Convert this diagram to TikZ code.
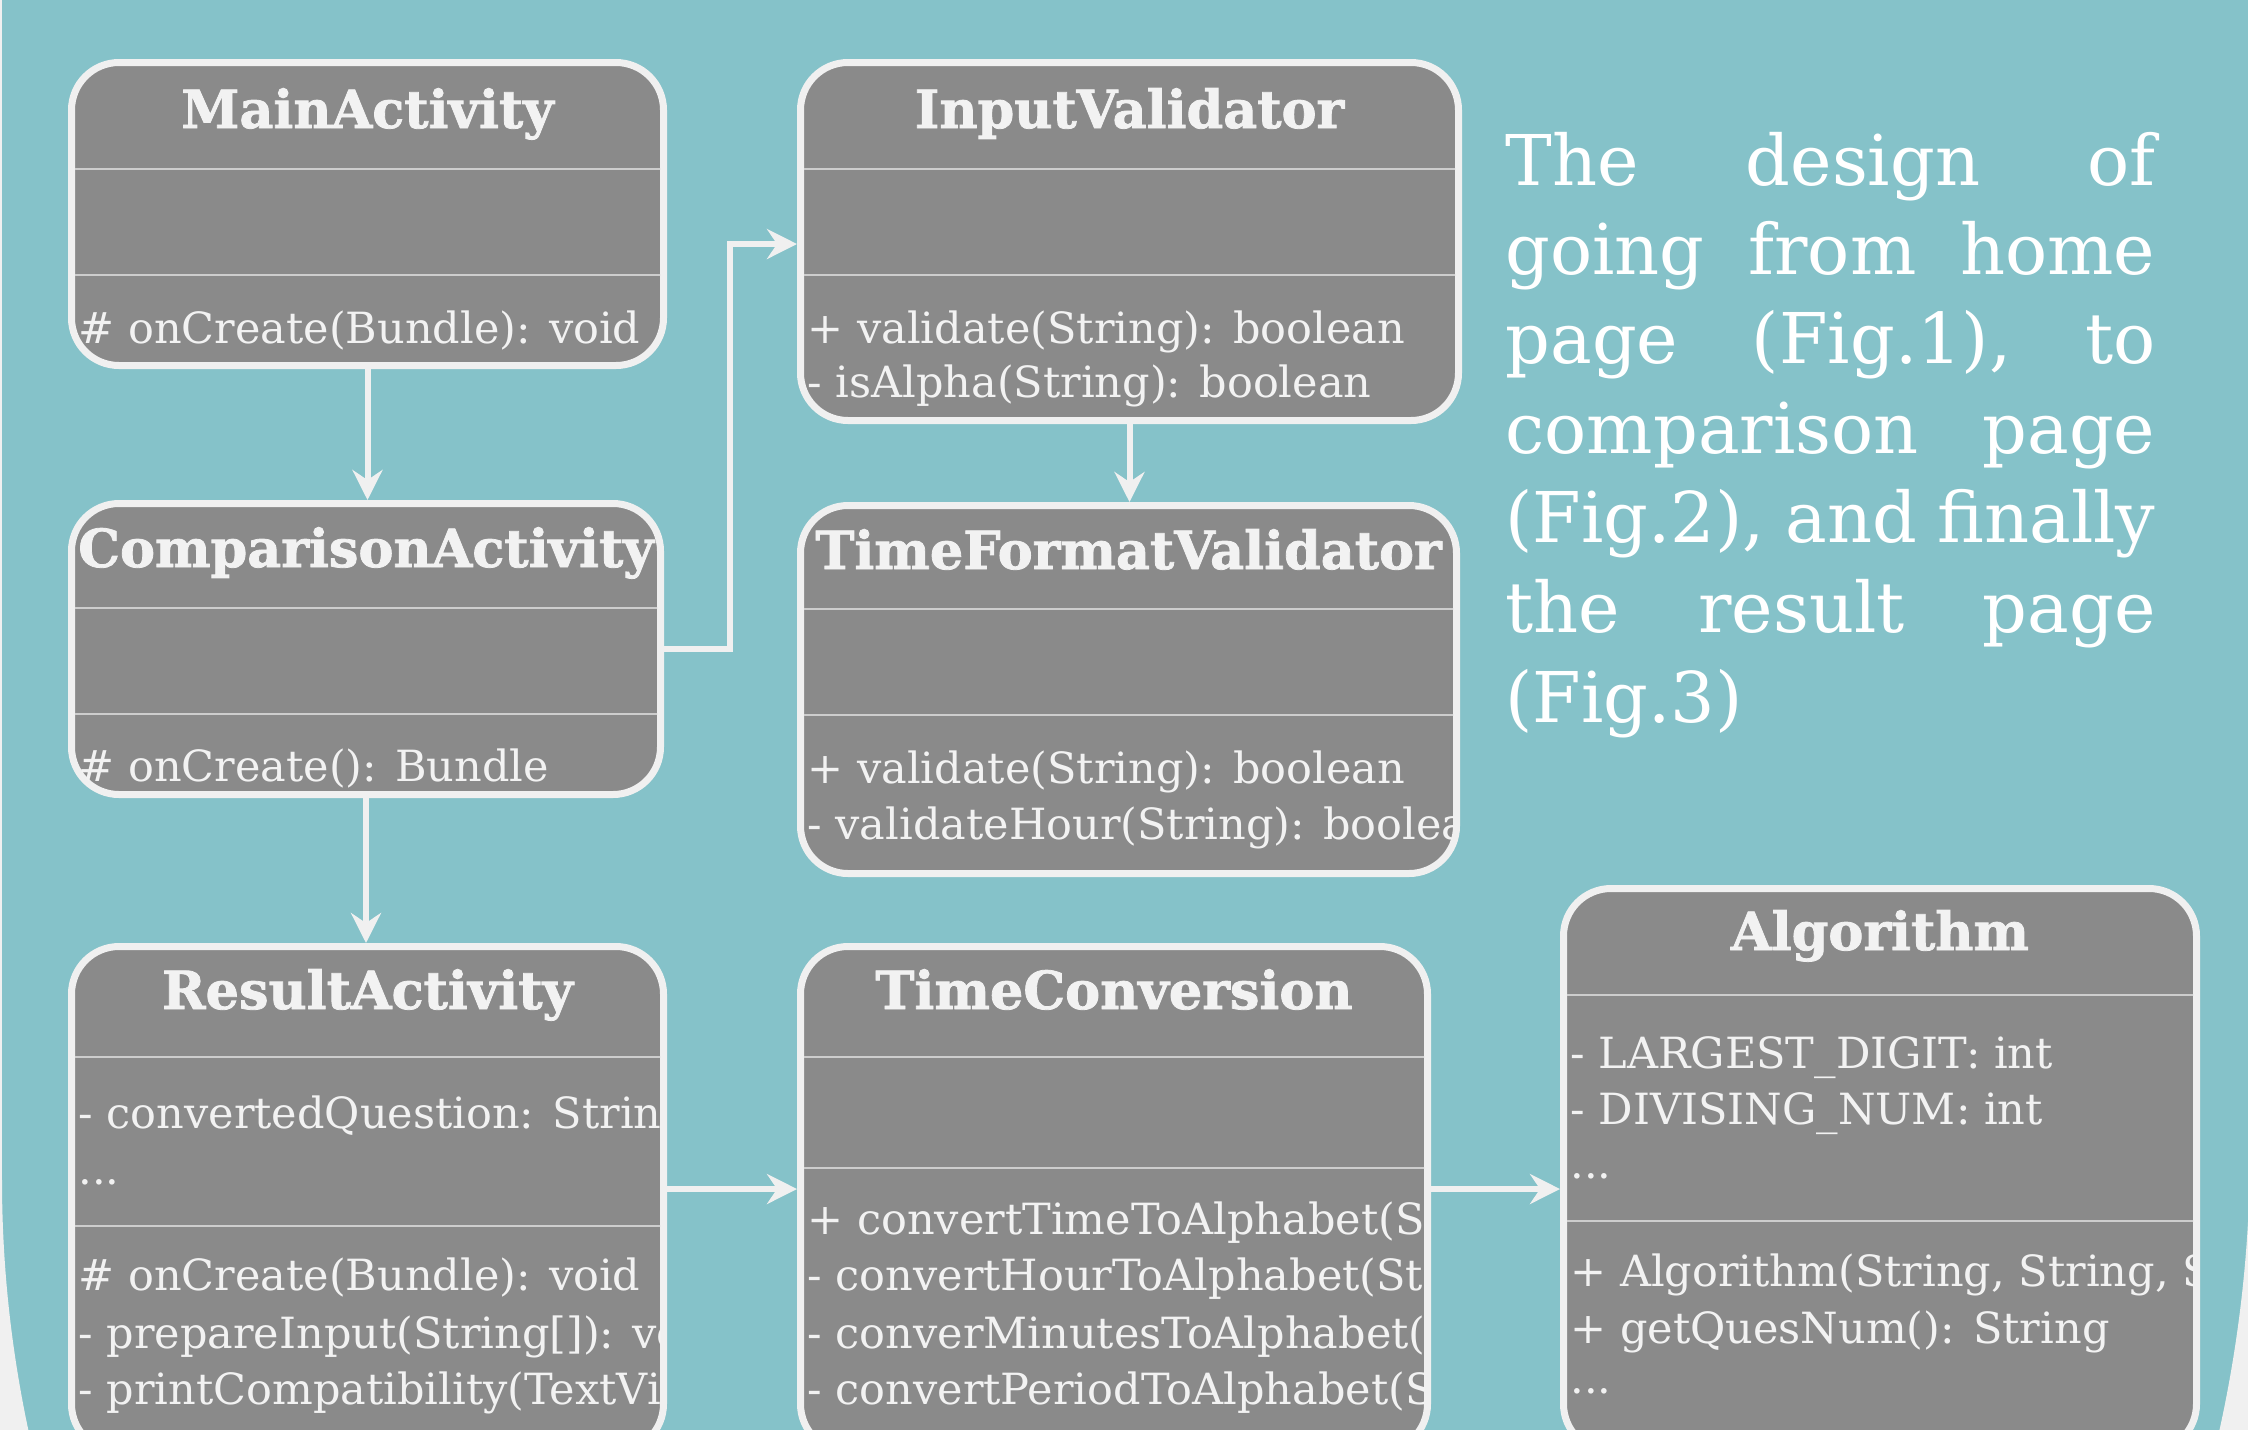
\documentclass[tikz,border=0pt]{standalone}
\usepackage{fontspec}
\setmainfont{DejaVu Serif}
\newfontfamily\titlefont[BoldFeatures={FakeBold=1.5}]{DejaVu Serif}
\usetikzlibrary{arrows.meta}
\definecolor{bgteal}{HTML}{85C2C9}
\definecolor{outgrey}{HTML}{F0F0F0}
\definecolor{boxfill}{HTML}{8A8A8A}
\definecolor{boxline}{HTML}{F0F0F0}
\definecolor{divline}{HTML}{CDCDCD}
\definecolor{txt}{HTML}{F2F2F2}
\tikzset{
  classbox/.style={rectangle, rounded corners=19pt, fill=boxfill, draw=boxline, line width=2.8pt, inner sep=0pt},
  bsize/.style 2 args={minimum width=#1*0.4pt, minimum height=#2*0.4pt},
  ctitle/.style={anchor=base, inner sep=0pt, text=txt, font=\fontsize{21pt}{26pt}\selectfont\titlefont\bfseries},
  cline/.style={anchor=base west, inner sep=0pt, text=txt, font=\fontsize{17.2pt}{21pt}\selectfont},
  divider/.style={draw=divline, line width=0.8pt},
  conn/.style={draw=boxline, line width=2.4pt, -{Stealth[length=12pt,width=12pt,inset=4pt]}},
  desc/.style={anchor=base west, inner sep=0pt, text=white, font=\fontsize{28pt}{36pt}\selectfont},
}
\newcommand\boxclip[1]{\clip[rounded corners=16pt] ([shift={(2.8pt,-2.8pt)}]#1.north west) rectangle ([shift={(-2.8pt,2.8pt)}]#1.south east);}
\begin{document}
\begin{tikzpicture}[x=0.4pt, y=-0.4pt]
\useasboundingbox (0,0) rectangle (2248,1429);
\clip (0,0) rectangle (2248,1429);
% background
\fill[bgteal] (-10,-10) rectangle (2260,1500);
\fill[outgrey] (-10,-10) rectangle (2,1180);
\fill[outgrey] (-10,1180) -- (2,1180) arc[start angle=180, end angle=164, radius=1200] -- (-10,1500) -- cycle;
\fill[outgrey] (2260,1150) -- (2250,1150) arc[start angle=0, end angle=16, radius=1300] -- (2260,1500) -- cycle;

% ---------- MainActivity
\node[classbox, bsize={592}{303}] (ma) at (367.5,214) {};
\begin{scope}
\boxclip{ma}
\draw[divider] (60,169) -- (680,169);
\draw[divider] (60,275) -- (680,275);
\node[ctitle] (mat) at (367.5,128) {MainActivity};
\node[cline] (ma1) at (78,343) {\# onCreate(Bundle): void};
\end{scope}

% ---------- InputValidator
\node[classbox, bsize={658}{358}] (iv) at (1129.5,241.5) {};
\begin{scope}
\boxclip{iv}
\draw[divider] (790,169) -- (1470,169);
\draw[divider] (790,275) -- (1470,275);
\node[ctitle] (ivt) at (1129.5,128) {InputValidator};
\node[cline] (iv1) at (807,343) {+ validate(String): boolean};
\node[cline] (iv2) at (807,397) {- isAlpha(String): boolean};
\end{scope}

% ---------- ComparisonActivity
\node[classbox, bsize={589}{291}] (ca) at (366,649) {};
\begin{scope}
\boxclip{ca}
\draw[divider] (60,608) -- (680,608);
\draw[divider] (60,714) -- (680,714);
\node[ctitle] (cat) at (366,567) {ComparisonActivity};
\node[cline] (ca1) at (78,781) {\# onCreate(): Bundle};
\end{scope}

% ---------- TimeFormatValidator
\node[classbox, bsize={656}{368}] (tfv) at (1128.5,689.5) {};
\begin{scope}
\boxclip{tfv}
\draw[divider] (790,609) -- (1470,609);
\draw[divider] (790,715) -- (1470,715);
\node[ctitle] (tfvt) at (1128.5,569) {TimeFormatValidator};
\node[cline] (tfv1) at (807,783) {+ validate(String): boolean};
\node[cline] (tfv2) at (807,839) {- validateHour(String): boolean};
\end{scope}

% ---------- ResultActivity
\node[classbox, bsize={592}{505}] (ra) at (367.5,1199) {};
\begin{scope}
\boxclip{ra}
\draw[divider] (60,1057) -- (680,1057);
\draw[divider] (60,1226) -- (680,1226);
\node[ctitle] (rat) at (367.5,1009) {ResultActivity};
\node[cline] (ra1) at (78,1128) {- convertedQuestion: String};
\node[cline] (ra2) at (78,1184) {...};
\node[cline] (ra3) at (78,1290) {\# onCreate(Bundle): void};
\node[cline] (ra4) at (78,1348) {- prepareInput(String[]): vo};
\node[cline] (ra5) at (78,1404) {- printCompatibility(TextVi};
\end{scope}

% ---------- TimeConversion
\node[classbox, bsize={627}{505}] (tc) at (1114,1199) {};
\begin{scope}
\boxclip{tc}
\draw[divider] (790,1057) -- (1440,1057);
\draw[divider] (790,1168) -- (1440,1168);
\node[ctitle] (tct) at (1114,1009) {TimeConversion};
\node[cline] (tc1) at (807,1234) {+ convertTimeToAlphabet(St};
\node[cline] (tc2) at (807,1290) {- convertHourToAlphabet(Str};
\node[cline] (tc3) at (807,1348) {- converMinutesToAlphabet(S};
\node[cline] (tc4) at (807,1404) {- convertPeriodToAlphabet(S};
\end{scope}

% ---------- Algorithm
\node[classbox, bsize={633}{563}] (al) at (1880,1170) {};
\begin{scope}
\boxclip{al}
\draw[divider] (1550,995) -- (2210,995);
\draw[divider] (1550,1221) -- (2210,1221);
\node[ctitle] (alt) at (1880,950) {Algorithm};
\node[cline] (al1) at (1570,1068) {- LARGEST\_DIGIT: int};
\node[cline] (al2) at (1570,1124) {- DIVISING\_NUM: int};
\node[cline] (al3) at (1570,1178) {...};
\node[cline] (al4) at (1570,1286) {+ Algorithm(String, String, St};
\node[cline] (al5) at (1570,1343) {+ getQuesNum(): String};
\node[cline] (al6) at (1570,1393) {...};
\end{scope}

% ---------- connectors
\coordinate (bend) at (730,244);
\coordinate (rowy) at (0,1189);
\draw[conn] (ma.south) -- (ma.south |- ca.north);
\draw[conn] (ca.south) -- (ca.south |- ra.north);
\draw[conn] (ca.east) -| (bend) -- (bend -| iv.west);
\draw[conn] (iv.south) -- (iv.south |- tfv.north);
\draw[conn] (ra.east |- rowy) -- (tc.west |- rowy);
\draw[conn] (tc.east |- rowy) -- (al.west |- rowy);

% ---------- description
\node[desc] (d1) at (1505,185) {\makebox[260pt][l]{The\hfill design\hfill of}};
\node[desc] (d2) at (1505,274) {\makebox[260pt][l]{going\hfill from\hfill home}};
\node[desc] (d3) at (1505,363) {\makebox[260pt][l]{page\hfill (Fig.1),\hfill to}};
\node[desc] (d4) at (1505,453) {\makebox[260pt][l]{comparison\hfill page}};
\node[desc] (d5) at (1505,542) {\makebox[260pt][l]{(Fig.2),\hfill and\hfill finally}};
\node[desc] (d6) at (1505,632) {\makebox[260pt][l]{the\hfill result\hfill page}};
\node[desc] (d7) at (1505,722) {\makebox[260pt][l]{(Fig.3)}};
\end{tikzpicture}
\end{document}
